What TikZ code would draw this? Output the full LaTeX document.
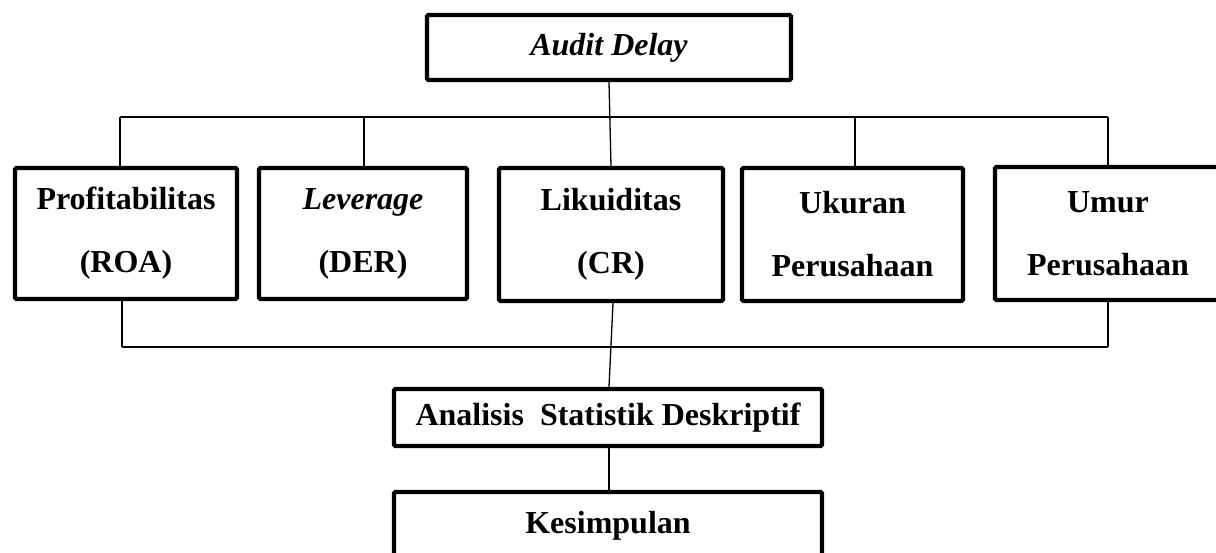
\documentclass[tikz,border=0pt]{standalone}
\usepackage{fontspec}
\setmainfont{Liberation Serif}
\begin{document}
\begin{tikzpicture}[x=1pt,y=-1pt,
  box/.style={draw, line width=4.3pt, rounded corners=1.5pt, inner sep=0pt, align=center,
    font=\fontsize{32}{63}\selectfont\bfseries},
  conn/.style={line width=1.3pt}]
\useasboundingbox (0,0) rectangle (1216,553);
\clip (0,0) rectangle (1216,553);
\node[box, minimum width=364pt, minimum height=65pt] (audit) at (609,47.5) {\itshape Audit Delay};
\node[box, minimum width=222pt, minimum height=131pt] (prof) at (126,233.5) {Profitabilitas\\(ROA)};
\node[box, minimum width=208pt, minimum height=131pt] (lev) at (363,233.5) {\itshape Leverage\\(DER)};
\node[box, minimum width=224pt, minimum height=133pt] (lik) at (611,234.5) {Likuiditas\\(CR)};
\node[box, minimum width=221pt, minimum height=133pt] (uk) at (852.5,234.5) {Ukuran\\Perusahaan};
\node[box, minimum width=240pt, minimum height=133pt] (um) at (1115,233.5) {\hspace*{-14pt}Umur\\\hspace*{-14pt}Perusahaan};
\node[box, minimum width=428pt, minimum height=57pt] (anal) at (608,417.5) {Analisis\ \ Statistik Deskriptif};
\node[box, minimum width=428pt, minimum height=90pt, text height=22pt, text depth=30pt] (kes) at (608,537) {Kesimpulan};
% top bus
\coordinate (tL) at (120,117);
\coordinate (tR) at (1108,117);
\draw[conn] (tL) -- (tR);
\draw[conn] (audit.south) -- (lik.north);
\draw[conn] (tL) -- (tL |- prof.north);
\draw[conn] (lev.north -| 364,0) -- (364,117);
\draw[conn] (uk.north -| 855,0) -- (855,117);
\draw[conn] (tR) -- (tR |- um.north);
% bottom bus
\coordinate (bL) at (122,347);
\coordinate (bR) at (1108,347);
\draw[conn] (bL) -- (bR);
\draw[conn] (bL |- prof.south) -- (bL);
\draw[conn] (bR |- um.south) -- (bR);
\draw[conn] ([xshift=2pt]lik.south) -- ([xshift=1pt]anal.north);
\draw[conn] ([xshift=1pt]anal.south) -- ([xshift=1pt]kes.north);
\end{tikzpicture}
\end{document}
